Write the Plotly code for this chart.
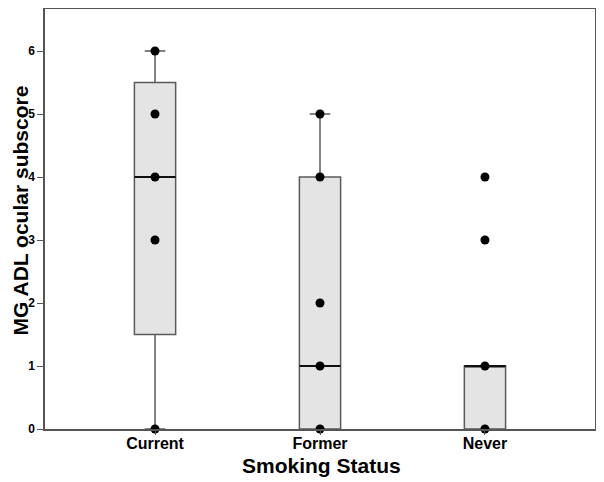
import plotly.graph_objects as go

categories = ["Current", "Former", "Never"]
q1 = [1.5, 0, 0]
median = [4, 1, 1]
q3 = [5.5, 4, 1]
lowerfence = [0, 0, 0]
upperfence = [6, 5, 1]

point_x = ["Current"] * 5 + ["Former"] * 5 + ["Never"] * 4
point_y = [6, 5, 4, 3, 0, 5, 4, 2, 1, 0, 4, 3, 1, 0]

y_ticks = [0, 1, 2, 3, 4, 5, 6]

fig = go.Figure()

fig.add_trace(go.Box(
    x=categories, q1=q1, median=median, q3=q3,
    lowerfence=lowerfence, upperfence=upperfence,
    width=0.25, whiskerwidth=0.5,
    fillcolor="#e4e4e4",
    line=dict(color="#5a5a5a", width=1.5),
    boxpoints=False, hoverinfo="skip", showlegend=False
))

# heavier median line drawn as a flat box
fig.add_trace(go.Box(
    x=categories, q1=median, median=median, q3=median,
    lowerfence=median, upperfence=median,
    width=0.25, whiskerwidth=0,
    fillcolor="rgba(0,0,0,0)",
    line=dict(color="#111111", width=2.2),
    boxpoints=False, hoverinfo="skip", showlegend=False
))

fig.add_trace(go.Scatter(
    x=point_x, y=point_y, mode="markers",
    marker=dict(color="black", size=9),
    cliponaxis=False, showlegend=False
))

# page body adds an 8px offset, so the figure is a bit smaller than the window
fig.update_layout(
    width=596, height=474,
    paper_bgcolor="white", plot_bgcolor="white",
    margin=dict(l=37, r=9, t=1, b=53),
    boxmode="overlay",
    font=dict(family="Liberation Sans, Arial, sans-serif", color="black"),
    annotations=[
        dict(text="<b>MG ADL ocular subscore</b>", textangle=-90,
             xref="paper", yref="paper", x=-0.044, y=0.52,
             xanchor="center", yanchor="middle", showarrow=False,
             font=dict(size=21)),
        dict(text="<b>Smoking Status</b>",
             xref="paper", yref="paper", x=0.503, y=-0.087,
             xanchor="center", yanchor="middle", showarrow=False,
             font=dict(size=21)),
    ]
)

fig.update_xaxes(
    type="category", categoryorder="array", categoryarray=categories,
    range=[-0.667, 2.667], automargin=False,
    showline=True, mirror=True, linecolor="#555555", linewidth=1.5,
    ticks="outside", ticklen=4, tickcolor="#555555",
    ticklabelstandoff=-5,
    showgrid=False, zeroline=False,
    tickfont=dict(size=16, family="Liberation Sans, Arial, sans-serif", weight="bold")
)

fig.update_yaxes(
    range=[0, 6.667], tickvals=y_ticks, automargin=False,
    showline=True, mirror=True, linecolor="#555555", linewidth=1.5,
    ticks="outside", ticklen=6, tickcolor="#555555",
    showgrid=False, zeroline=False,
    tickfont=dict(size=12, family="Liberation Sans Narrow, Arial Narrow, sans-serif", weight="bold")
)

fig.write_html("out.html")
